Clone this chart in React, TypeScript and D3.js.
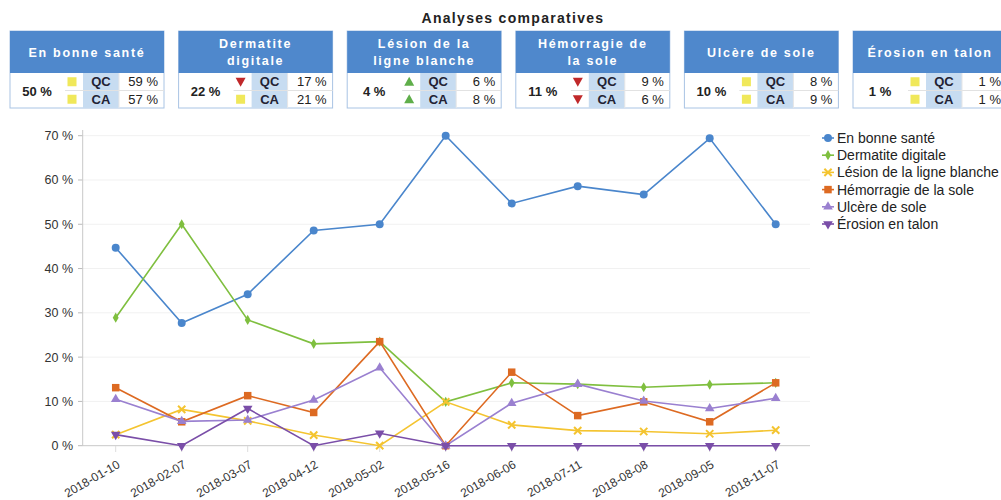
import React, { useEffect, useRef } from "react";
import * as d3 from "d3";

const dates = [
  "2018-01-10", "2018-02-07", "2018-03-07", "2018-04-12", "2018-05-02", "2018-05-16",
  "2018-06-06", "2018-07-11", "2018-08-08", "2018-09-05", "2018-11-07",
];

const enBonneSante = [44.7, 27.7, 34.2, 48.6, 50, 70, 54.7, 58.6, 56.7, 69.4, 50];
const dermatite = [28.9, 50, 28.4, 23, 23.5, 9.9, 14.2, 13.9, 13.2, 13.8, 14.2];
const lesionLigne = [2.5, 8.2, 5.6, 2.4, 0, 9.9, 4.7, 3.4, 3.2, 2.7, 3.5];
const hemorragie = [13.1, 5.4, 11.3, 7.5, 23.5, 0, 16.6, 6.8, 9.9, 5.4, 14.2];
const ulcere = [10.5, 5.5, 5.8, 10.3, 17.6, 0, 9.6, 13.9, 10.1, 8.4, 10.7];
const erosion = [2.5, 0, 8.4, 0, 2.8, 0, 0, 0, 0, 0, 0];

const yTicks = [0, 10, 20, 30, 40, 50, 60, 70];

// cartes "Analyses comparatives"
const cardTitles = [
  ["En bonne santé"],
  ["Dermatite", "digitale"],
  ["Lésion de la", "ligne blanche"],
  ["Hémorragie de", "la sole"],
  ["Ulcère de sole"],
  ["Érosion en talon"],
];
const cardValues = ["50 %", "22 %", "4 %", "11 %", "10 %", "1 %"];
const qcValues = ["59 %", "17 %", "6 %", "9 %", "8 %", "1 %"];
const caValues = ["57 %", "21 %", "8 %", "6 %", "9 %", "1 %"];
// "eq" = carré jaune, "down" = triangle rouge, "up" = triangle vert
const qcTrend = ["eq", "down", "up", "down", "eq", "eq"];
const caTrend = ["eq", "eq", "up", "down", "eq", "eq"];

type Serie = { name: string; values: number[]; color: string; symbol: d3.SymbolType; size: number; rot?: number };

const series: Serie[] = [
  { name: "En bonne santé", values: enBonneSante, color: "#4a86cc", symbol: d3.symbolCircle, size: 50 },
  { name: "Dermatite digitale", values: dermatite, color: "#7fbf3f", symbol: d3.symbolDiamond, size: 30 },
  { name: "Lésion de la ligne blanche", values: lesionLigne, color: "#f4c430", symbol: d3.symbolX, size: 36 },
  { name: "Hémorragie de la sole", values: hemorragie, color: "#dd6a22", symbol: d3.symbolSquare, size: 56 },
  { name: "Ulcère de sole", values: ulcere, color: "#9a80d0", symbol: d3.symbolTriangle, size: 40 },
  { name: "Érosion en talon", values: erosion, color: "#7a4ea8", symbol: d3.symbolTriangle, size: 40, rot: 180 },
];

const FONT = "'Liberation Sans', Arial, sans-serif";

const App: React.FC = () => {
  const svgRef = useRef<SVGSVGElement | null>(null);

  useEffect(() => {
    if (!svgRef.current) return;
    const width = 1001;
    const height = 500;
    const svg = d3.select(svgRef.current).attr("width", width).attr("height", height);
    svg.selectAll("*").remove();
    svg.style("font-family", FONT);

    // titre
    svg.append("text")
      .attr("x", 513).attr("y", 23)
      .attr("text-anchor", "middle")
      .style("font-size", "14px").style("font-weight", "bold").style("letter-spacing", "1.3px")
      .attr("fill", "#222")
      .text("Analyses comparatives");

    // cartes
    const cardW = 154;
    const cardStep = 168.6;
    const top = 31;
    const headH = 42;
    const rowH = 17.5;
    cardTitles.forEach((lines, i) => {
      const x0 = 10 + i * cardStep;
      const g = svg.append("g").attr("transform", `translate(${x0},${top})`);
      g.append("rect").attr("width", cardW).attr("height", headH + rowH * 2)
        .attr("fill", "#fff").attr("stroke", "#a9c4e4").attr("stroke-width", 1);
      g.append("rect").attr("width", cardW).attr("height", headH).attr("fill", "#4f88cc");
      const ty = lines.length === 1 ? 26 : 16.5;
      lines.forEach((l, k) => {
        g.append("text").attr("x", cardW / 2).attr("y", ty + k * 17)
          .attr("text-anchor", "middle").attr("fill", "#fff")
          .style("font-size", "12.5px").style("font-weight", "bold").style("letter-spacing", "1.7px")
          .text(l);
      });
      // cellules QC / CA
      g.append("rect").attr("x", 73).attr("y", headH).attr("width", 36).attr("height", rowH * 2).attr("fill", "#c7dcf1");
      g.append("line").attr("x1", 55).attr("x2", cardW).attr("y1", headH + rowH).attr("y2", headH + rowH)
        .attr("stroke", "#e2e2e2");
      g.append("line").attr("x1", 109).attr("x2", 109).attr("y1", headH).attr("y2", headH + rowH * 2)
        .attr("stroke", "#e6e6e6");
      g.append("text").attr("x", 27).attr("y", headH + rowH + 5).attr("text-anchor", "middle")
        .style("font-size", "13px").style("font-weight", "bold").attr("fill", "#222").text(cardValues[i]);
      [["QC", qcValues[i], qcTrend[i]], ["CA", caValues[i], caTrend[i]]].forEach(([lab, val, tr], r) => {
        const cy = headH + rowH * r + rowH / 2;
        g.append("text").attr("x", 91).attr("y", cy + 4.5).attr("text-anchor", "middle")
          .style("font-size", "13px").style("font-weight", "bold").attr("fill", "#223").text(lab);
        g.append("text").attr("x", 148).attr("y", cy + 4.5).attr("text-anchor", "end")
          .style("font-size", "13px").attr("fill", "#222").text(val);
        const ix = 62;
        if (tr === "eq") {
          g.append("rect").attr("x", ix - 4.5).attr("y", cy - 4.5).attr("width", 9).attr("height", 9).attr("fill", "#f0e85a");
        } else if (tr === "up") {
          g.append("path").attr("d", `M${ix - 5},${cy + 4}L${ix + 5},${cy + 4}L${ix},${cy - 5}Z`).attr("fill", "#5fae4a");
        } else {
          g.append("path").attr("d", `M${ix - 5},${cy - 4}L${ix + 5},${cy - 4}L${ix},${cy + 5}Z`).attr("fill", "#c0282a");
        }
      });
    });

    // graphique
    const x = d3.scaleBand<string>().domain(dates).range([82.7, 808.7]);
    const y = d3.scaleLinear().domain([0, 70]).range([445.7, 135.7]);
    const cx = (d: string) => (x(d) ?? 0) + x.bandwidth() / 2;

    const grid = svg.append("g");
    yTicks.forEach((t) => {
      grid.append("line").attr("x1", 82.7).attr("x2", 810).attr("y1", y(t)).attr("y2", y(t))
        .attr("stroke", t === 0 ? "#c8c8c8" : "#f1f1f1").attr("stroke-width", 1);
      grid.append("line").attr("x1", 78).attr("x2", 82.7).attr("y1", y(t)).attr("y2", y(t)).attr("stroke", "#bbb");
      grid.append("text").attr("x", 73).attr("y", y(t) + 4.5).attr("text-anchor", "end")
        .style("font-size", "12.5px").attr("fill", "#333").text(`${t} %`);
    });
    grid.append("line").attr("x1", 82.7).attr("x2", 82.7).attr("y1", 130).attr("y2", 446)
      .attr("stroke", "#c8c8c8");

    dates.forEach((d) => {
      grid.append("line").attr("x1", cx(d)).attr("x2", cx(d)).attr("y1", 446).attr("y2", 452).attr("stroke", "#ddd");
      grid.append("text")
        .attr("transform", `translate(${cx(d) + 5},${467}) rotate(-30)`)
        .attr("text-anchor", "end")
        .style("font-size", "12px").attr("fill", "#333").text(d);
    });

    const line = d3.line<number>().x((_, i) => cx(dates[i])).y((v) => y(v));
    series.forEach((s) => {
      const g = svg.append("g");
      g.append("path").attr("d", line(s.values)).attr("fill", "none")
        .attr("stroke", s.color).attr("stroke-width", 1.6);
      g.selectAll("path.m").data(s.values).enter().append("path")
        .attr("class", "m")
        .attr("transform", (v, i) => `translate(${cx(dates[i])},${y(v)}) rotate(${s.rot ?? 0})`)
        .attr("d", d3.symbol().type(s.symbol).size(s.size)())
        .attr("fill", s.color)
        .attr("stroke", s.symbol === d3.symbolX ? s.color : "none")
        .attr("stroke-width", 2);
    });

    // légende
    const lg = svg.append("g").attr("transform", "translate(821,138)");
    series.forEach((s, i) => {
      const row = lg.append("g").attr("transform", `translate(0,${i * 17.2})`);
      row.append("line").attr("x1", 1).attr("x2", 13).attr("stroke", s.color).attr("stroke-width", 1.6);
      row.append("path").attr("transform", `translate(7,0) rotate(${s.rot ?? 0})`)
        .attr("d", d3.symbol().type(s.symbol).size(s.size)())
        .attr("fill", s.color).attr("stroke", s.symbol === d3.symbolX ? s.color : "none").attr("stroke-width", 2);
      row.append("text").attr("x", 16).attr("y", 5).style("font-size", "14px").attr("fill", "#222").text(s.name);
    });
  }, []);

  return (
    <div style={{ position: "absolute", left: 0, top: 0 }}>
      <svg ref={svgRef}></svg>
    </div>
  );
};

export default App;
